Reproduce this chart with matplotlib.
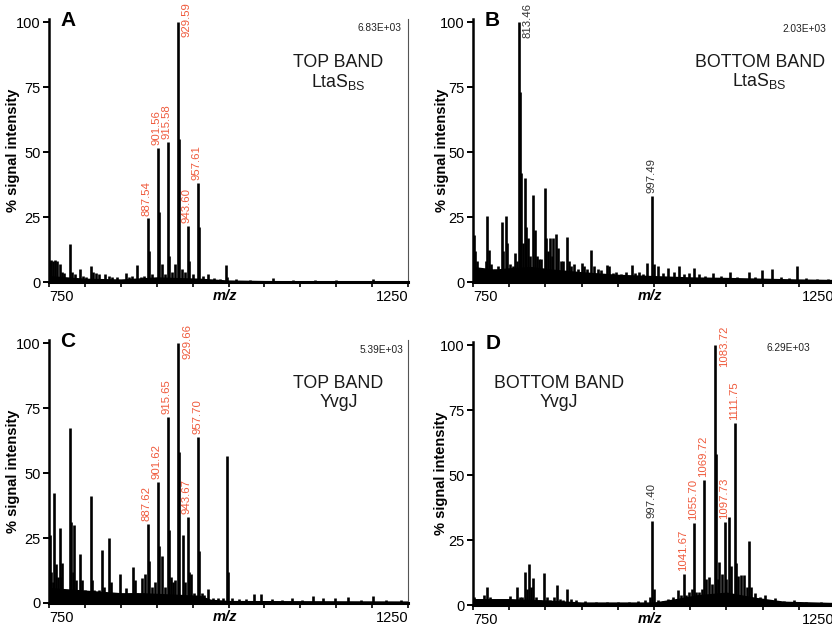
import matplotlib
matplotlib.use('Agg')
import matplotlib.pyplot as plt

plt.rcParams['font.family'] = ['Liberation Sans', 'DejaVu Sans']

# ---- panel A : TOP BAND LtaS(BS) ----
A_mz = [751, 753, 756, 758, 761, 765, 768, 771, 779, 782, 786, 793, 797, 801, 808, 811,
        815, 820, 828, 833, 838, 845, 857, 862, 866, 872, 878, 882, 887.54, 889.5, 894,
        901.56, 903.5, 907, 911, 915.58, 917.5, 921, 925, 929.59, 931.5, 935, 939, 943.60,
        945.5, 950, 957.61, 959.5, 964, 971, 980, 988, 996.5, 998.5, 1010, 1030, 1062,
        1090, 1120, 1150, 1201, 1230]
A_int = [8, 8.5, 8, 8.5, 8, 7, 4, 3.5, 14.5, 4, 3, 5, 2.5, 2, 6, 4,
         3.5, 3, 3, 2.5, 2, 2, 3.5, 2, 2.5, 6.6, 2, 2.5, 24.5, 12, 3,
         51.5, 27, 7, 3, 54, 10, 4, 7, 100, 55, 5, 4, 21.5,
         8, 3, 38, 21, 2.5, 3, 1.5, 1.2, 6.5, 2, 1, 0.8, 1.5,
         0.8, 0.8, 0.6, 1, 0.5]
A_base_mz = [750, 800, 850, 900, 960, 1000, 1050, 1250]
A_base_int = [2.5, 1.5, 1.2, 2, 1.5, 0.8, 0.6, 0.4]
A_labels = [887.54, 901.56, 915.58, 929.59, 943.60, 957.61]

# ---- panel B : BOTTOM BAND LtaS(BS) ----
B_mz = [751, 753, 756, 760, 765, 768, 769.8, 771.5, 775, 780, 785, 789.6, 792, 795.6,
        797.5, 801, 805, 808, 811, 813.46, 814.8, 816.5, 818.5, 821.8, 823.5, 825.5, 829,
        833.3, 835.3, 838, 841, 844, 849.4, 851.5, 853.5, 856.3, 859, 861, 864.6, 867, 871,
        875, 880, 882, 886, 890, 895, 900, 904, 908, 912.5, 917, 922, 927, 934.6, 938, 943,
        948, 955, 962, 969, 974, 979, 985, 990, 997.49, 1000, 1005.5, 1012, 1020, 1027,
        1034, 1041, 1048, 1055, 1062, 1070, 1082, 1092, 1105, 1115, 1131, 1140, 1149, 1163,
        1175, 1186, 1197, 1210, 1225, 1240]
B_int = [18, 12, 8, 5, 5, 8, 25.5, 12.5, 7, 5, 6, 23, 12, 25.5,
         15, 7, 6, 11, 8, 100, 73, 42, 15, 40, 21, 17, 10,
         33.5, 20, 10, 9, 9, 36, 17, 12, 17, 10, 17, 18.5, 13, 8,
         8, 17.5, 8, 6, 7, 5, 7.5, 6, 5, 12.5, 6, 5, 4.5, 6.5, 6, 3.5,
         4, 3, 4, 6.5, 3.5, 4, 3, 7.5, 33, 7, 6, 3.5, 5.5, 4,
         6, 3, 3.5, 5.5, 3, 2.5, 3.5, 2.5, 4, 2, 4, 2, 4.5, 5,
         2, 1.5, 6.2, 1.5, 1, 1.2]
B_base_mz = [750, 780, 800, 830, 860, 900, 950, 1000, 1050, 1100, 1150, 1200, 1250]
B_base_int = [6, 5, 5.5, 6, 5, 4, 3, 2.5, 2, 1.8, 1.5, 1.2, 1]
B_labels = [813.46, 997.49]

# ---- panel C : TOP BAND YvgJ ----
C_mz = [751, 753, 755, 757.4, 760, 762, 765.3, 767, 768.5, 771, 774, 779, 781, 783, 785,
        788, 790, 793.5, 796, 800, 803, 808, 810, 813, 817, 820, 823.4, 826, 830, 834,
        836, 840, 845, 849, 852, 857, 860, 864, 867.5, 869.5, 873, 879, 882, 884, 887.62,
        889.5, 893, 897, 901.62, 903.5, 908, 911, 915.65, 917.5, 919.5, 923, 926, 929.66,
        931.5, 936, 939, 943.67, 945.5, 948, 952, 957.70, 959.5, 963, 966, 972, 978, 985,
        992, 997.5, 999.5, 1005, 1015, 1025, 1036, 1045, 1060, 1075, 1089, 1103, 1117,
        1131, 1148, 1167, 1185, 1201, 1220, 1240]
C_int = [26, 12, 8, 42.5, 15, 10, 29, 10, 15.5, 5, 4, 67.5, 31, 12, 30,
         9, 5, 19, 9, 5, 4, 41, 9, 5, 4, 5, 20.3, 6, 4, 25,
         8, 4, 4, 11, 3.5, 5.7, 3, 4, 14, 9, 4, 9.5, 4, 11, 30.5,
         16, 6, 8, 46.5, 22, 18, 6, 71.5, 28, 10, 8, 9, 100,
         58, 26, 8, 33, 12, 11, 4, 64, 20, 4, 3, 5.5, 2, 2,
         2, 56.5, 12, 2, 1.5, 1.5, 3.4, 3.4, 1.5, 1.2, 2.1, 1.3, 2.8,
         2.1, 2.1, 2.4, 1.2, 2.8, 1, 1.3]
C_base_mz = [750, 800, 850, 880, 920, 960, 975, 1000, 1250]
C_base_int = [6, 5, 4, 4, 3.5, 3, 1.5, 1, 0.8]
C_labels = [887.62, 901.62, 915.65, 929.66, 943.67, 957.70]

# ---- panel D : BOTTOM BAND YvgJ ----
D_mz = [751, 755, 760, 765, 769, 773, 778, 785, 792, 801, 806, 811, 815, 818, 821.8,
        824, 827.8, 830, 833.3, 837, 842, 848.5, 852, 857, 862, 866.4, 870, 875, 880, 885,
        892, 905, 920, 935, 950, 965, 978, 988, 994, 997.40, 999.5, 1005, 1013, 1020,
        1026.6, 1033.5, 1037, 1041.67, 1044, 1048, 1052, 1055.70, 1058, 1062, 1066,
        1069.72, 1072, 1076.4, 1080, 1083.72, 1085.5, 1088, 1090, 1094, 1097.73, 1100,
        1104, 1107, 1111.75, 1113.5, 1116.5, 1120, 1124, 1128, 1131.6, 1134, 1140, 1146,
        1153, 1160, 1167, 1180, 1194, 1210, 1230, 1245]
D_int = [3, 2.5, 2, 4, 6.8, 3, 2, 2.5, 2, 3.4, 2, 6.8, 3, 3, 12.8,
         6, 15.6, 7, 10.4, 3, 2, 12.4, 3, 2, 3, 7.7, 2.5, 2, 6, 2.5,
         2, 1.5, 1.2, 1.3, 1.2, 1, 1.5, 2, 3, 32.5, 6, 2, 1.5, 2.5,
         3, 5.7, 4, 12, 4, 5, 6, 31.5, 5, 5, 6,
         48, 10, 10.6, 8, 100, 58, 10, 16.6, 12, 32, 10,
         34, 15, 70, 16, 11, 11.5, 11.5, 7, 24.5, 7, 4.5, 3,
         3.9, 2, 2.6, 1.5, 2, 1.2, 1, 0.8]
D_base_mz = [750, 800, 850, 900, 1000, 1030, 1060, 1100, 1140, 1180, 1250]
D_base_int = [2.5, 2.5, 2, 1.2, 1.2, 2.5, 4, 5, 3, 1.5, 1]
D_labels_black = [997.40]
D_labels = [1041.67, 1055.70, 1069.72, 1083.72, 1097.73, 1111.75]

RED = '#ef5a3c'
GREY = '#333333'

fig = plt.figure(figsize=(8.32, 6.33), dpi=100)


def panel(rect, mz, inten, bmz, bint, labels, letter, scale, line1, line2,
          ylab_x, letter_x, scale_pos, band_pos, right_spine=True):
    ax = fig.add_axes(rect)
    ax.fill_between(bmz, bint, color='black', lw=0)
    ax.vlines(mz, 0, inten, color='black', lw=1.9)
    ax.set_xlim(750, 1250)
    ax.set_ylim(0, 101)

    # peak labels, the base peak gets its label beside it
    for lab_list, col in labels:
        for m in lab_list:
            h = inten[mz.index(m)]
            if h >= 90:
                ax.annotate(f'{m:.2f}', xy=(m, 107.5), xytext=(6.5, 0),
                            textcoords='offset points', rotation=90, ha='center',
                            va='top', color=col, fontsize=8.2, annotation_clip=False)
            else:
                ax.annotate(f'{m:.2f}', xy=(m, h), xytext=(-0.8, 2),
                            textcoords='offset points', rotation=90, ha='center',
                            va='bottom', color=col, fontsize=8.2)

    ax.spines['top'].set_visible(False)
    ax.spines['left'].set_linewidth(1.8)
    ax.spines['bottom'].set_linewidth(2.2)
    if right_spine:
        ax.spines['right'].set_linewidth(0.8)
        ax.spines['right'].set_color('#555555')
    else:
        ax.spines['right'].set_visible(False)

    ax.set_yticks([0, 25, 50, 75, 100])
    ax.tick_params(axis='y', direction='out', length=4, width=1.4, labelsize=10.5, pad=2)
    ax.set_xticks([750, 1250])
    ax.set_xticks(range(800, 1250, 50), minor=True)
    ax.tick_params(axis='x', which='both', direction='out', length=3.5, width=1.2,
                   labelsize=10.5, pad=2.5)
    tl = ax.get_xticklabels()
    tl[0].set_ha('left')
    tl[1].set_ha('right')

    ax.text(ylab_x, 0.5, '% signal intensity', transform=ax.transAxes, rotation=90,
            ha='center', va='center', fontsize=10.5, fontweight='bold')
    ax.text(0.49, -0.055, 'm/z', transform=ax.transAxes, ha='center', va='center',
            fontsize=10.5, fontweight='bold', fontstyle='italic')
    ax.text(letter_x, 0.997, letter, transform=ax.transAxes, ha='left', va='center',
            fontsize=15, fontweight='bold')
    ax.text(scale_pos[0], scale_pos[1], scale, transform=ax.transAxes, ha='right',
            va='center', fontsize=7.3, color='#222222')
    ax.text(band_pos[0], band_pos[1], line1, transform=ax.transAxes, ha='center',
            va='baseline', fontsize=12.8, color='#1a1a1a')
    ax.text(band_pos[0], band_pos[2], line2, transform=ax.transAxes, ha='center',
            va='baseline', fontsize=12.8, color='#1a1a1a')
    return ax


ltas = r'$\mathregular{LtaS_{BS}}$'

panel([0.0589, 0.5545, 0.4315, 0.4148], A_mz, A_int, A_base_mz, A_base_int,
      [(A_labels, RED)], 'A', '6.83E+03', 'TOP BAND', ltas,
      -0.100, 0.031, (0.983, 0.967), (0.806, 0.819, 0.743))

panel([0.5685, 0.5545, 0.4351, 0.4148], B_mz, B_int, B_base_mz, B_base_int,
      [(B_labels, GREY)], 'B', '2.03E+03', 'BOTTOM BAND', ltas,
      -0.086, 0.033, (0.975, 0.965), (0.792, 0.819, 0.748), right_spine=False)

panel([0.0589, 0.0474, 0.4315, 0.4148], C_mz, C_int, C_base_mz, C_base_int,
      [(C_labels, RED)], 'C', '5.39E+03', 'TOP BAND', 'YvgJ',
      -0.100, 0.031, (0.986, 0.963), (0.806, 0.819, 0.748))

panel([0.5685, 0.0442, 0.4351, 0.4148], D_mz, D_int, D_base_mz, D_base_int,
      [(D_labels_black, GREY), (D_labels, RED)], 'D', '6.29E+03', 'BOTTOM BAND', 'YvgJ',
      -0.088, 0.036, (0.931, 0.979), (0.238, 0.827, 0.755), right_spine=False)

fig.savefig('out.png', dpi=100)
